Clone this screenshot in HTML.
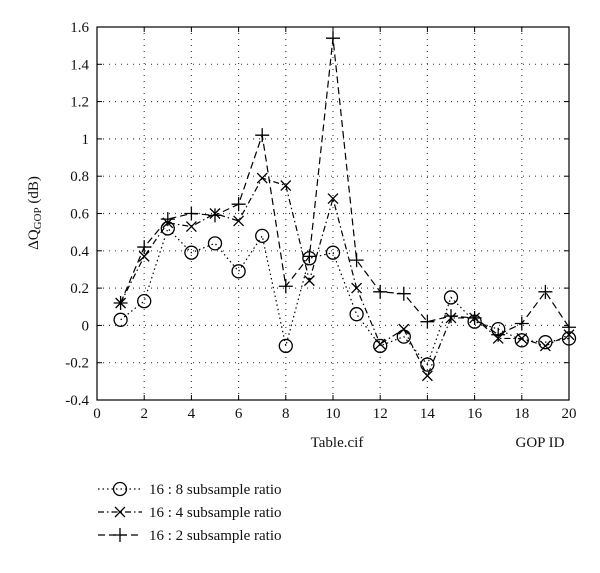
<!DOCTYPE html>
<html><head><meta charset="utf-8"><style>
body{margin:0;background:#fff}
svg text{font-family:"Liberation Serif",serif;fill:#111}
</style></head><body>
<svg width="600" height="568">
<g id="grid"></g>
<g id="axes"></g>
<g id="series"></g>
<text x="337" y="447" font-size="15" text-anchor="middle">Table.cif</text>
<text x="540" y="447" font-size="15" text-anchor="middle">GOP ID</text>
<text transform="translate(38,213) rotate(-90)" font-size="15" text-anchor="middle">ΔQ<tspan font-size="11" dy="3">GOP</tspan><tspan dy="-3"> (dB)</tspan></text>
<g id="legend"></g>
</svg>
<script>
const gop=[1,2,3,4,5,6,7,8,9,10,11,12,13,14,15,16,17,18,19,20];
const s8=[0.03,0.13,0.52,0.39,0.44,0.29,0.48,-0.11,0.36,0.39,0.06,-0.11,-0.06,-0.21,0.15,0.02,-0.02,-0.08,-0.09,-0.07];
const s4=[0.12,0.37,0.55,0.53,0.60,0.56,0.79,0.75,0.24,0.68,0.20,-0.10,-0.02,-0.27,0.04,0.04,-0.07,-0.07,-0.11,-0.05];
const s2=[0.12,0.42,0.57,0.60,0.59,0.65,1.02,0.21,0.37,1.54,0.35,0.18,0.17,0.02,0.05,0.04,-0.05,0.01,0.18,-0.01];
const xTicks=[0,2,4,6,8,10,12,14,16,18,20];
const yTicks=[-0.4,-0.2,0,0.2,0.4,0.6,0.8,1,1.2,1.4,1.6];
const legendLabels=["16 : 8 subsample ratio","16 : 4 subsample ratio","16 : 2 subsample ratio"];
const L=97,R=569,T=27,B=400;
const X=v=>L+(v-0)/20*(R-L);
const Y=v=>B-(v+0.4)/2*(B-T);
const NS="http://www.w3.org/2000/svg";
function mk(tag,attrs,parent){const e=document.createElementNS(NS,tag);for(const k in attrs)e.setAttribute(k,attrs[k]);parent.appendChild(e);return e;}
const grid=document.getElementById('grid'),axes=document.getElementById('axes'),ser=document.getElementById('series'),leg=document.getElementById('legend');
xTicks.forEach(t=>{
 if(t>0&&t<20){const g=mk('line',{x1:X(t),x2:X(t),y1:T,y2:B,stroke:'#444','stroke-width':1.2,'stroke-dasharray':'1 5'},grid);
 
 }
 const tk=mk('line',{x1:X(t),x2:X(t),y1:B,y2:B-5,stroke:'#000'},axes);
 
 
 const tk2=mk('line',{x1:X(t),x2:X(t),y1:T,y2:T+5,stroke:'#000'},axes);
 
 
 const tx=mk('text',{x:X(t),y:B+18,'font-size':15,'text-anchor':'middle'},axes);tx.textContent=t;
 
 
});
yTicks.forEach(t=>{
 if(t>-0.4&&t<1.6){const g=mk('line',{x1:L,x2:R,y1:Y(t),y2:Y(t),stroke:'#444','stroke-width':1.2,'stroke-dasharray':'1 5'},grid);
 
 }
 const tk=mk('line',{x1:L,x2:L+5,y1:Y(t),y2:Y(t),stroke:'#000'},axes);
 
 
 const tk2=mk('line',{x1:R,x2:R-5,y1:Y(t),y2:Y(t),stroke:'#000'},axes);
 
 
 const tx=mk('text',{x:L-8,y:Y(t)+5,'font-size':15,'text-anchor':'end'},axes);tx.textContent=(Math.round(t*10)/10).toString();
 
 
});
const fr=mk('rect',{x:L,y:T,width:R-L,height:B-T,fill:'none',stroke:'#000','stroke-width':1.2},axes);


function marker(type,x,y,p){
 if(type==='o'){return mk('circle',{cx:x,cy:y,r:6.5,fill:'none',stroke:'#000','stroke-width':1.3},p);}
 const d=type==='x'?`M${x-5},${y-5}L${x+5},${y+5}M${x-5},${y+5}L${x+5},${y-5}`:`M${x-7},${y}L${x+7},${y}M${x},${y-7}L${x},${y+7}`;
 return mk('path',{d:d,stroke:'#000','stroke-width':1.3,fill:'none'},p);
}
const defs=[[s8,'o','1.5 3','series-16-8'],[s4,'x','6 3 1.5 3','series-16-4'],[s2,'+','7 4','series-16-2']];
defs.forEach(([vals,m,dash,name])=>{
 const g=mk('g',{},ser);
 
 
 const pl=mk('polyline',{points:vals.map((v,i)=>X(gop[i])+','+Y(v)).join(' '),fill:'none',stroke:'#000','stroke-width':1.2,'stroke-dasharray':dash},g);
 
 
 vals.forEach((v,i)=>{const mm=marker(m,X(gop[i]),Y(v),g);
  
  });
});
defs.forEach(([vals,m,dash,name],i)=>{
 const y=489+i*23;
 const g=mk('g',{},leg);
 
 
 mk('line',{x1:98,x2:142,y1:y,y2:y,stroke:'#000','stroke-width':1.2,'stroke-dasharray':dash},g);
 marker(m,120,y,g);
 const tx=mk('text',{x:149,y:y+5,'font-size':15},g);tx.textContent=legendLabels[i];
 
 
});
</script>
</body></html>
